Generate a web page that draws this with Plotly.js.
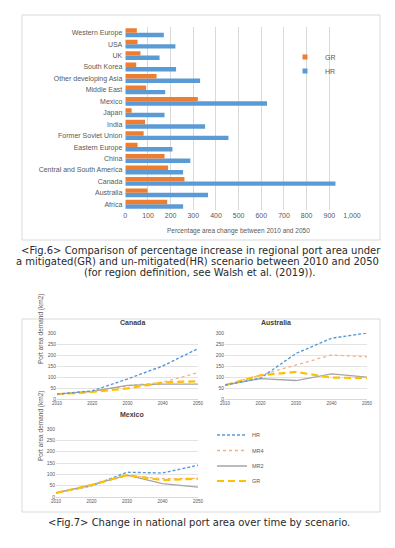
<!DOCTYPE html>
<html><head><meta charset="utf-8">
<script src="https://cdn.plot.ly/plotly-3.0.1.min.js"></script>
<style>html,body{margin:0;padding:0;background:#fff;}#chart{width:395px;height:548px;}</style>
</head><body><div id="chart"></div>
<script>
// ---- Fig.6 data ----
const regions = ["Africa","Australia","Canada","Central and South America","China","Eastern Europe","Former Soviet Union","India","Japan","Mexico","Middle East","Other developing Asia","South Korea","UK","USA","Western Europe"];
const grValues = [185, 98, 261, 189, 173, 54, 81, 87, 28, 320, 92, 138, 48, 67, 54, 51];
const hrValues = [255, 365, 927, 255, 287, 208, 455, 352, 173, 625, 176, 330, 224, 151, 221, 170];
const barTicks = [0,100,200,300,400,500,600,700,800,900,1000];

// ---- Fig.7 data ----
const years = [2010, 2020, 2030, 2040, 2050];
const canadaHR  = [22, 37, 91, 150, 229];
const canadaMR4 = [22, 35, 60, 76, 120];
const canadaMR2 = [22, 35, 62, 68, 68];
const canadaGR  = [22, 32, 48, 75, 81];
const australiaHR  = [63, 95, 207, 276, 300];
const australiaMR4 = [63, 108, 155, 200, 192];
const australiaMR2 = [63, 93, 84, 114, 99];
const australiaGR  = [63, 108, 123, 97, 96];
const mexicoHR  = [18, 49, 109, 106, 140];
const mexicoMR4 = [18, 52, 94, 81, 82];
const mexicoMR2 = [18, 54, 96, 59, 44];
const mexicoGR  = [18, 53, 97, 74, 81];
const lineTicks = [0,50,100,150,200,250,300];

const W = 395, H = 548;
const px = v => v / W;
const py = v => 1 - v / H;

const ORANGE = '#ED7D31', BLUE = '#5B9BD5', GRAY = '#A5A5A5', GOLD = '#FFC000';
const TXT = '#595959';
const FONT = 'Liberation Sans, Arial, sans-serif';
const CAP = 'DejaVu Sans, sans-serif';

const traces = [
  {type:'bar', orientation:'h', y:regions, x:hrValues, name:'HR', marker:{color:BLUE}, xaxis:'x', yaxis:'y', showlegend:false, hoverinfo:'none'},
  {type:'bar', orientation:'h', y:regions, x:grValues, name:'GR', marker:{color:ORANGE}, xaxis:'x', yaxis:'y', showlegend:false, hoverinfo:'none'},
  // legend-only entries for bar chart
  {type:'scatter', mode:'markers', x:[null], y:[null], name:'GR', marker:{color:ORANGE, symbol:'square', size:5}, xaxis:'x', yaxis:'y', legend:'legend'},
  {type:'scatter', mode:'markers', x:[null], y:[null], name:'HR', marker:{color:BLUE, symbol:'square', size:5}, xaxis:'x', yaxis:'y', legend:'legend2'}
];

const styles = {
  HR:  {color:BLUE, width:1.4, dash:'3px,2px'},
  MR4: {color:'#F4B183', width:1.3, dash:'dot'},
  MR2: {color:GRAY, width:1.3, dash:'solid'},
  GR:  {color:GOLD, width:2.2, dash:'7px,4px'}
};
const legendFor = {HR:'legend3', MR4:'legend4', MR2:'legend5', GR:'legend6'};
function addLines(series, xa, ya, showLeg){
  for (const [name, vals] of series){
    traces.push({type:'scatter', mode:'lines', x:years, y:vals, name:name,
      line:Object.assign({}, styles[name]), xaxis:xa, yaxis:ya,
      showlegend:showLeg, legend:legendFor[name], hoverinfo:'none'});
  }
}
addLines([['MR4',canadaMR4],['MR2',canadaMR2],['GR',canadaGR],['HR',canadaHR]], 'x2','y2', false);
addLines([['MR4',australiaMR4],['MR2',australiaMR2],['GR',australiaGR],['HR',australiaHR]], 'x3','y3', false);
addLines([['HR',mexicoHR],['MR4',mexicoMR4],['MR2',mexicoMR2],['GR',mexicoGR]], 'x4','y4', true);

function lineX(d0, d1){
  return {domain:[d0,d1], range:[2010,2050], tickvals:years, ticktext:years.map(String),
    showgrid:false, zeroline:false, showline:true, linecolor:'#d9d9d9', linewidth:1,
    ticks:'', tickfont:{size:4.5, color:TXT, family:FONT}, automargin:false, fixedrange:true};
}
function lineY(d0, d1, anchor){
  return {domain:[d0,d1], range:[0,300], tickvals:lineTicks, showgrid:true, gridcolor:'#e3e3e3', gridwidth:1,
    zeroline:false, showline:false, ticks:'', tickfont:{size:5, color:TXT, family:FONT},
    automargin:false, anchor:anchor, fixedrange:true};
}

function leg(x, y, size){
  return {x:px(x), y:py(y), xanchor:'left', yanchor:'middle', bgcolor:'rgba(0,0,0,0)',
    font:{size:size, color:TXT, family:FONT}, itemwidth:30, borderwidth:0, tracegroupgap:0};
}
function cap(text, x, y){
  return {text:text, x:px(x), y:py(y), xref:'paper', yref:'paper', showarrow:false, height:11,
    font:{size:10, color:'#2a2a2a', family:CAP}};
}

const layout = {
  width:W, height:H, autosize:false, margin:{l:0,r:0,t:0,b:0},
  paper_bgcolor:'#fff', plot_bgcolor:'rgba(0,0,0,0)',
  barmode:'group', bargap:0.22, bargroupgap:0,
  font:{family:FONT, color:TXT},
  xaxis:{domain:[px(125.3), px(352)], range:[0,1000], tickvals:barTicks, tickformat:',',
    showgrid:true, gridcolor:'#d9d9d9', gridwidth:1, zeroline:false, showline:false, ticks:'',
    tickfont:{size:7, color:TXT, family:FONT}, anchor:'y', automargin:false, fixedrange:true},
  yaxis:{domain:[py(210), py(27)], type:'category', showgrid:false, zeroline:false, showline:false,
    ticks:'', tickfont:{size:7, color:TXT, family:FONT}, anchor:'x', automargin:false, ticklabelstandoff:2, fixedrange:true},
  xaxis2:Object.assign(lineX(px(57), px(198)), {anchor:'y2'}),
  yaxis2:lineY(py(399), py(333), 'x2'),
  xaxis3:Object.assign(lineX(px(225), px(367)), {anchor:'y3'}),
  yaxis3:lineY(py(399), py(333), 'x3'),
  xaxis4:Object.assign(lineX(px(56), px(198)), {anchor:'y4'}),
  yaxis4:lineY(py(497), py(429), 'x4'),
  showlegend:true,
  legend:leg(285, 57, 7),
  legend2:leg(285, 71, 7),
  legend3:leg(212, 435, 5.5),
  legend4:leg(212, 450.5, 5.5),
  legend5:leg(212, 466, 5.5),
  legend6:leg(212, 481, 5.5),
  shapes:[
    {type:'rect', xref:'paper', yref:'paper', x0:px(22), x1:px(380), y0:py(240), y1:py(15), line:{color:'#d9d9d9', width:1}},
    {type:'rect', xref:'paper', yref:'paper', x0:px(22), x1:px(380), y0:py(512), y1:py(319), line:{color:'#d9d9d9', width:1}}
  ],
  annotations:[
    {text:'Percentage area change between 2010 and 2050', x:px(238), y:py(231), xref:'paper', yref:'paper', showarrow:false, font:{size:6.5, color:TXT, family:FONT}},
    cap('<Fig.6> Comparison of percentage increase in regional port area under', 201, 250),
    cap('a mitigated(GR) and un-mitigated(HR) scenario between 2010 and 2050', 197, 261),
    cap('(for region definition, see Walsh et al. (2019)).', 199, 272),
    {text:'<b>Canada</b>', x:px(118), y:py(322), xref:'paper', yref:'paper', showarrow:false, font:{size:7, color:'#404040', family:FONT}},
    {text:'<b>Australia</b>', x:px(293), y:py(322), xref:'paper', yref:'paper', showarrow:false, font:{size:7, color:'#404040', family:FONT}},
    {text:'<b>Mexico</b>', x:px(118), y:py(420), xref:'paper', yref:'paper', showarrow:false, font:{size:7, color:'#404040', family:FONT}},
    {text:'Port area demand (km2)', x:px(35), y:py(366), xref:'paper', yref:'paper', showarrow:false, textangle:-90, font:{size:6.5, color:TXT, family:FONT}},
    {text:'Port area demand (km2)', x:px(35), y:py(463), xref:'paper', yref:'paper', showarrow:false, textangle:-90, font:{size:6.5, color:TXT, family:FONT}},
    cap('<Fig.7> Change in national port area over time by scenario.', 199, 530)
  ]
};

Plotly.newPlot('chart', traces, layout, {staticPlot:true, displayModeBar:false});
</script>
</body></html>
